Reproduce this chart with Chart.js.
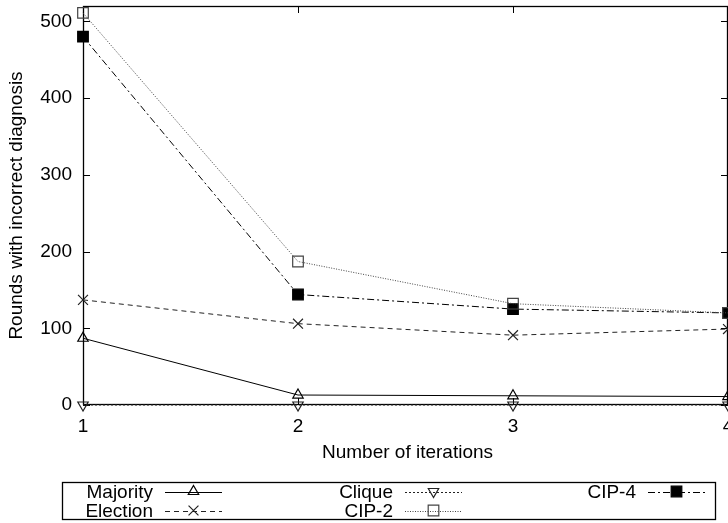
<!DOCTYPE html>
<html>
<head>
<meta charset="utf-8">
<script src="https://cdn.jsdelivr.net/npm/chart.js@4/dist/chart.umd.min.js"></script>
<style>
  html, body { margin: 0; padding: 0; background: #fff; }
  #wrap { width: 728px; height: 523px; position: relative; }
</style>
</head>
<body>
<div id="wrap"><canvas id="c" width="728" height="523"></canvas></div>
<script>
// Iteration counts along the x axis
const iterations = [1, 2, 3, 4];
const xTicks = [1, 2, 3, 4];
const yTicks = [0, 100, 200, 300, 400, 500];

// Rounds with incorrect diagnosis per algorithm
const majority = [87, 13, 12, 11];
const election = [137, 106, 91, 99];
const clique   = [0, 0, 0, 0];
const cip2     = [511, 187, 132, 120];
const cip4     = [480, 144, 125, 120];

const seriesLabels = ['Majority', 'Election', 'Clique', 'CIP-2', 'CIP-4'];

const FONT = '"Liberation Sans", Arial, Helvetica, sans-serif';
const FSIZE = 19;

function pts(vals) { return iterations.map((x, i) => ({ x: x, y: vals[i] })); }

const styles = [
  { color: '#000', dash: [],           point: 'triangle', rot: 0,   r: 6, fill: false },
  { color: '#222', dash: [5, 4],       point: 'crossRot', rot: 0,   r: 7, fill: false },
  { color: '#222', dash: [2, 2],       point: 'triangle', rot: 180, r: 6, fill: false },
  { color: '#444', dash: [1, 1.5],     point: 'rect',     rot: 0,   r: 7.5, fill: false },
  { color: '#000', dash: [7, 3, 2, 3], point: 'rect',     rot: 0,   r: 7.5, fill: true }
];

const seriesData = [majority, election, clique, cip2, cip4];

const datasets = seriesData.map((vals, i) => {
  const s = styles[i];
  return {
    label: seriesLabels[i],
    data: pts(vals),
    borderColor: s.color,
    backgroundColor: s.fill ? '#000' : 'rgba(0,0,0,0)',
    borderWidth: 1,
    borderDash: s.dash,
    pointStyle: s.point,
    pointRotation: s.rot,
    pointRadius: s.r,
    pointHoverRadius: s.r,
    pointBorderColor: s.color,
    pointBackgroundColor: s.fill ? '#000' : 'rgba(0,0,0,0)',
    pointBorderWidth: 1.2,
    tension: 0,
    clip: false
  };
});

// Small marker painter for the key below the plot
function drawMarker(ctx, style, x, y) {
  ctx.save();
  ctx.setLineDash([]);
  ctx.lineWidth = 1.2;
  ctx.strokeStyle = style.color;
  ctx.fillStyle = '#000';
  const r = style.r;
  ctx.beginPath();
  if (style.point === 'triangle') {
    let a = style.rot * Math.PI / 180;
    for (let k = 0; k < 3; k++) {
      const px = x + Math.sin(a) * r, py = y - Math.cos(a) * r;
      if (k === 0) ctx.moveTo(px, py); else ctx.lineTo(px, py);
      a += 2 * Math.PI / 3;
    }
    ctx.closePath();
    ctx.stroke();
  } else if (style.point === 'crossRot') {
    const d = r * Math.SQRT1_2;
    ctx.moveTo(x - d, y - d); ctx.lineTo(x + d, y + d);
    ctx.moveTo(x - d, y + d); ctx.lineTo(x + d, y - d);
    ctx.stroke();
  } else if (style.point === 'rect') {
    const h = r * Math.SQRT1_2;
    ctx.rect(x - h, y - h, 2 * h, 2 * h);
    if (style.fill) ctx.fill();
    ctx.stroke();
  }
  ctx.restore();
}

// Frame, inward ticks, axis titles and the boxed key
const framePlugin = {
  id: 'frame',
  beforeDatasetsDraw(chart) {
    const { ctx, chartArea: a } = chart;
    const xs = chart.scales.x, ys = chart.scales.y;
    ctx.save();
    ctx.strokeStyle = '#000';
    ctx.lineWidth = 1.3;
    ctx.setLineDash([]);
    ctx.strokeRect(a.left + 0.5, a.top + 0.5, a.right - a.left - 1, a.bottom - a.top - 1);
    const TL = 7;
    ctx.lineWidth = 1;
    ctx.beginPath();
    yTicks.forEach(v => {
      const y = Math.round(ys.getPixelForValue(v)) + 0.5;
      ctx.moveTo(a.left, y); ctx.lineTo(a.left + TL, y);
      ctx.moveTo(a.right, y); ctx.lineTo(a.right - TL, y);
    });
    xTicks.forEach(v => {
      const x = Math.round(xs.getPixelForValue(v)) + 0.5;
      ctx.moveTo(x, a.bottom); ctx.lineTo(x, a.bottom - TL);
      ctx.moveTo(x, a.top); ctx.lineTo(x, a.top + TL);
    });
    ctx.stroke();
    ctx.restore();
  },
  afterDraw(chart) {
    const { ctx, chartArea: a } = chart;
    ctx.save();
    ctx.fillStyle = '#000';
    ctx.font = FSIZE + 'px ' + FONT;
    ctx.textBaseline = 'middle';
    ctx.textAlign = 'center';
    ctx.fillText('Number of iterations', (a.left + a.right) / 2 + 2, 453);
    ctx.save();
    ctx.translate(17, (a.top + a.bottom) / 2);
    ctx.rotate(-Math.PI / 2);
    ctx.fillText('Rounds with incorrect diagnosis', 0, 0);
    ctx.restore();

    // key box
    ctx.strokeStyle = '#000';
    ctx.lineWidth = 1.3;
    ctx.strokeRect(62.5, 482.5, 653, 37);
    const colRight = [153, 393, 636];
    const rowY = [491.5, 510.5];
    chart.data.datasets.forEach((ds, i) => {
      const col = Math.floor(i / 2), row = i % 2;
      const tx = colRight[col], ty = rowY[row];
      ctx.textAlign = 'right';
      ctx.fillStyle = '#000';
      ctx.fillText(ds.label, tx, ty + 1);
      const x0 = tx + 12, x1 = x0 + 57;
      ctx.save();
      ctx.strokeStyle = ds.borderColor;
      ctx.lineWidth = 1;
      ctx.setLineDash(ds.borderDash);
      ctx.beginPath();
      ctx.moveTo(x0, Math.round(ty) + 0.5);
      ctx.lineTo(x1, Math.round(ty) + 0.5);
      ctx.stroke();
      ctx.restore();
      drawMarker(ctx, styles[i], (x0 + x1) / 2, ty);
    });
    ctx.restore();
  }
};

new Chart(document.getElementById('c'), {
  type: 'line',
  data: { datasets: datasets },
  options: {
    responsive: false,
    animation: false,
    events: [],
    layout: { autoPadding: false, padding: { top: 6, right: 0, bottom: 0, left: 0 } },
    plugins: { legend: { display: false }, tooltip: { enabled: false }, title: { display: false } },
    scales: {
      x: {
        type: 'linear',
        min: 1, max: 4,
        grid: { display: false, drawTicks: false },
        border: { display: false },
        afterBuildTicks(scale) { scale.ticks = xTicks.map(v => ({ value: v })); },
        afterFit(scale) { scale.height = 118; scale.paddingLeft = 0; scale.paddingRight = 0; },
        ticks: {
          padding: 10,
          color: '#000',
          maxRotation: 0,
          autoSkip: false,
          font: { family: FONT, size: FSIZE }
        }
      },
      y: {
        type: 'linear',
        min: 0, max: 520,
        grid: { display: false, drawTicks: false },
        border: { display: false },
        afterBuildTicks(scale) { scale.ticks = yTicks.map(v => ({ value: v })); },
        afterFit(scale) { scale.width = 83; scale.paddingTop = 0; scale.paddingBottom = 0; },
        ticks: {
          padding: 11,
          color: '#000',
          font: { family: FONT, size: FSIZE }
        }
      }
    }
  },
  plugins: [framePlugin]
});
</script>
</body>
</html>
